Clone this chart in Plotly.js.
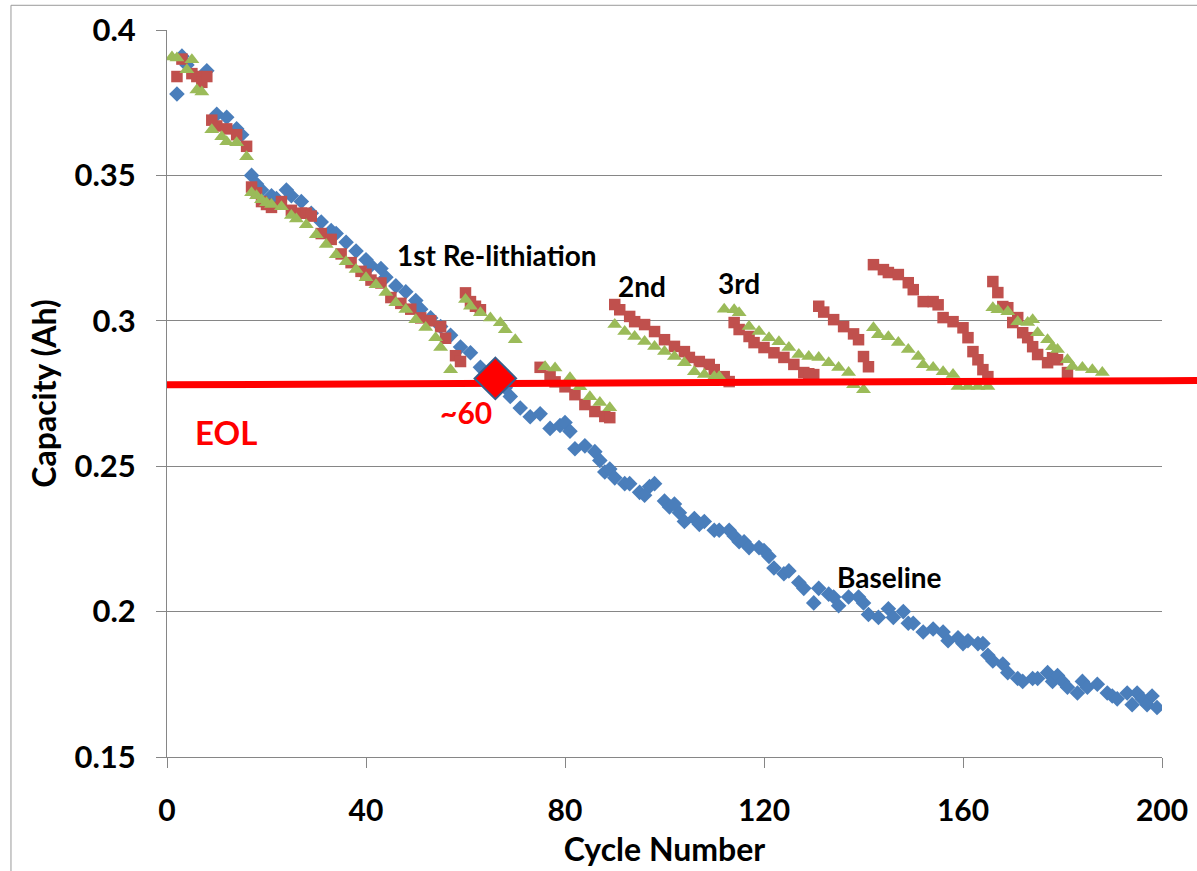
<!DOCTYPE html>
<html>
<head>
<meta charset="utf-8">
<script src="https://cdn.plot.ly/plotly-3.0.1.min.js"></script>
<style>html,body{margin:0;padding:0;background:#fff;}#chart{width:1197px;height:871px;}</style>
</head>
<body>
<div id="chart"></div>
<script>
// Baseline (blue diamonds)
const baseCycles = [2,3,4,8,10,12,14,15,17,18,19,21,22,24,25,27,29,31,33,34,36,38,40,41,43,44,46,48,50,51,53,55,57,59,61,63,65,68,69,71,73,75,77,79,80,81,82,84,86,87,88,89,90,92,93,95,96,97,98,100,101,102,103,104,106,107,108,110,111,113,114,115,116,117,119,120,121,122,124,125,127,128,130,131,133,134,135,137,139,140,141,143,145,146,148,149,150,152,154,156,157,159,160,161,163,164,165,166,168,169,171,172,174,175,177,178,179,180,181,183,184,185,187,189,190,191,193,194,195,196,197,198,199];
const baseCap = [0.378,0.391,0.388,0.386,0.371,0.370,0.366,0.364,0.350,0.347,0.345,0.343,0.342,0.345,0.343,0.341,0.337,0.334,0.331,0.330,0.327,0.324,0.321,0.319,0.318,0.315,0.312,0.310,0.307,0.304,0.301,0.298,0.295,0.291,0.289,0.284,0.281,0.277,0.274,0.270,0.267,0.268,0.263,0.264,0.265,0.262,0.256,0.257,0.255,0.252,0.248,0.249,0.246,0.244,0.244,0.241,0.240,0.243,0.244,0.238,0.236,0.237,0.234,0.231,0.232,0.230,0.231,0.228,0.228,0.228,0.226,0.224,0.224,0.222,0.222,0.221,0.219,0.215,0.213,0.214,0.210,0.208,0.203,0.208,0.206,0.205,0.202,0.205,0.205,0.203,0.199,0.198,0.201,0.198,0.200,0.196,0.196,0.193,0.194,0.193,0.190,0.191,0.189,0.190,0.189,0.189,0.185,0.183,0.182,0.179,0.177,0.176,0.177,0.177,0.179,0.176,0.178,0.176,0.174,0.172,0.176,0.174,0.175,0.172,0.171,0.170,0.172,0.168,0.172,0.170,0.168,0.171,0.167];

// Cell A (red squares)
const redCycles = [2,3,5,6,7,8,9,10,12,14,16,17,18,19,20,21,23,25,27,28,29,31,33,35,37,39,40,41,43,45,47,49,51,53,55,56,58,59,
  60,61,62,63,
  75,77,78,80,82,84,86,88,89,
  90,91,93,94,96,98,100,102,104,105,107,109,110,112,113,
  114,115,117,118,120,122,124,126,128,129,130,
  131,132,134,136,138,139,140,141,
  142,144,145,147,149,150,152,154,155,156,158,160,161,162,163,164,165,
  166,167,168,169,170,171,172,173,174,175,177,178,179,181];
const redCap = [0.384,0.390,0.385,0.384,0.382,0.384,0.369,0.367,0.366,0.364,0.360,0.346,0.344,0.341,0.340,0.339,0.341,0.338,0.337,0.337,0.336,0.330,0.328,0.323,0.320,0.317,0.316,0.314,0.313,0.308,0.306,0.304,0.301,0.300,0.298,0.294,0.288,0.286,
  0.3096,0.3066,0.3050,0.3038,
  0.2840,0.2810,0.2790,0.2773,0.2746,0.2712,0.2688,0.2671,0.2667,
  0.3056,0.3038,0.3015,0.2997,0.2987,0.2963,0.2935,0.2912,0.2894,0.2874,0.2860,0.2850,0.2832,0.2808,0.2791,
  0.2994,0.2970,0.2946,0.2925,0.2908,0.2890,0.2874,0.2850,0.2822,0.2818,0.2815,
  0.3050,0.3030,0.3004,0.2980,0.2955,0.2935,0.2877,0.2842,
  0.3193,0.3176,0.3166,0.3159,0.3131,0.3107,0.3066,0.3066,0.3055,0.3011,0.2997,0.2976,0.2942,0.2894,0.2866,0.2832,0.2808,
  0.3135,0.3097,0.3049,0.3045,0.2994,0.3011,0.2959,0.2942,0.2911,0.2884,0.2856,0.2873,0.2866,0.2822];

// Cell B (green triangles)
const greenCycles = [1,2,4,5,6,7,9,11,12,14,16,17,18,19,20,21,23,25,26,28,30,32,34,36,38,40,42,44,46,48,50,52,54,55,57,
  60,61,63,65,67,68,70,
  76,78,81,83,85,87,89,
  90,92,94,96,98,100,102,104,106,108,110,111,
  112,114,115,117,119,121,123,125,127,129,131,133,135,137,138,140,
  142,143,145,147,149,151,152,154,156,158,159,161,163,165,
  166,167,169,171,173,174,175,177,178,179,181,182,184,186,188];
const greenCap = [0.3907,0.3904,0.3863,0.3898,0.3794,0.3787,0.3657,0.3633,0.3616,0.3612,0.3564,0.3440,0.3430,0.3416,0.3406,0.3400,0.3392,0.3362,0.3350,0.3330,0.3296,0.3262,0.3227,0.3203,0.3176,0.3148,0.3124,0.3097,0.3062,0.3039,0.3004,0.2977,0.2942,0.2908,0.2832,
  0.3073,0.3050,0.3028,0.3010,0.2993,0.2969,0.2935,
  0.2842,0.2838,0.2804,0.2773,0.2739,0.2719,0.2701,
  0.2987,0.2963,0.2946,0.2929,0.2912,0.2894,0.2877,0.2856,0.2825,0.2815,0.2808,0.2808,
  0.3040,0.3038,0.3028,0.2980,0.2963,0.2942,0.2928,0.2908,0.2884,0.2877,0.2874,0.2856,0.2839,0.2822,0.2780,0.2763,
  0.2976,0.2952,0.2945,0.2925,0.2901,0.2877,0.2849,0.2839,0.2825,0.2815,0.2774,0.2774,0.2774,0.2774,
  0.3045,0.3038,0.3031,0.2997,0.2994,0.3004,0.2959,0.2935,0.2911,0.2901,0.2866,0.2843,0.2839,0.2832,0.2822];

// End-of-life threshold line and the ~60 cycle crossing
const eolCycles = [0, 200];
const eolCap = [0.2780, 0.2794];
const crossCycle = [66];
const crossCap = [0.2802];

const yTickVals = [0.15, 0.2, 0.25, 0.3, 0.35, 0.4];
const yTickText = ['0.15', '0.2', '0.25', '0.3', '0.35', '0.4'];
const xTickVals = [0, 40, 80, 120, 160, 200];
const xTickText = ['0', '40', '80', '120', '160', '200'];

const FONT = 'Lato, "Open Sans", sans-serif';

const traces = [
  {x: baseCycles, y: baseCap, type: 'scatter', mode: 'markers', name: 'Baseline',
   marker: {symbol: 'diamond', size: 12, color: '#4A7EBB'}},
  {x: redCycles, y: redCap, type: 'scatter', mode: 'markers', name: 'Cell A',
   marker: {symbol: 'square', size: 11.5, color: '#C0504D'}},
  {x: greenCycles, y: greenCap, type: 'scatter', mode: 'markers', name: 'Cell B',
   marker: {symbol: 'triangle-up', size: 13, color: '#9BBB59'}},
  {x: eolCycles, y: eolCap, type: 'scatter', mode: 'lines', name: 'EOL',
   line: {color: '#FF0000', width: 7}},
  {x: crossCycle, y: crossCap, type: 'scatter', mode: 'markers', name: 'EOL crossing',
   marker: {symbol: 'diamond', size: 32, color: '#FF0000', line: {color: '#385D8A', width: 2}}}
];

const layout = {
  width: 1197, height: 871,
  margin: {l: 167, r: 35, t: 30, b: 114},
  paper_bgcolor: '#ffffff', plot_bgcolor: '#ffffff',
  showlegend: false,
  font: {family: FONT, color: '#000000'},
  xaxis: {
    range: [0, 200], tickvals: xTickVals, ticktext: xTickText,
    showgrid: false, zeroline: false,
    showline: true, linecolor: '#868686', linewidth: 1,
    ticks: 'outside', ticklen: 10, tickcolor: '#868686',
    ticklabelstandoff: 17,
    tickfont: {family: FONT, size: 30, weight: 700, color: '#000'},
    title: {text: 'Cycle Number', font: {family: FONT, size: 32, weight: 700, color: '#000'}, standoff: 12}
  },
  yaxis: {
    range: [0.15, 0.4], tickvals: yTickVals, ticktext: yTickText,
    showgrid: true, gridcolor: '#868686', gridwidth: 1, zeroline: false,
    showline: true, linecolor: '#868686', linewidth: 1,
    ticks: 'outside', ticklen: 10, tickcolor: '#868686',
    ticklabelstandoff: 14,
    tickfont: {family: FONT, size: 31, weight: 700, color: '#000'},
    title: {text: 'Capacity (Ah)', font: {family: FONT, size: 32, weight: 700, color: '#000'}, standoff: 8}
  },
  shapes: [
    // continuation of the EOL line beyond the plot area
    {type: 'line', xref: 'paper', yref: 'y', x0: 1, x1: 1.05, y0: 0.2794, y1: 0.2795,
     line: {color: '#FF0000', width: 7}, layer: 'above'},
    // chart area border
    {type: 'rect', xref: 'paper', yref: 'paper', x0: -0.1568, x1: 1.1, y0: -0.3, y1: 1.034,
     line: {color: '#9a9a9a', width: 1}, fillcolor: 'rgba(0,0,0,0)', layer: 'below'}
  ],
  annotations: [
    {x: 66.3, y: 0.3227, text: '1st Re-lithiation', showarrow: false, font: {family: FONT, size: 28, weight: 700, color: '#000'}},
    {x: 95.4, y: 0.3121, text: '2nd', showarrow: false, font: {family: FONT, size: 28, weight: 700, color: '#000'}},
    {x: 115, y: 0.3131, text: '3rd', showarrow: false, font: {family: FONT, size: 28, weight: 700, color: '#000'}},
    {x: 145.2, y: 0.212, text: 'Baseline', showarrow: false, font: {family: FONT, size: 28, weight: 700, color: '#000'}},
    {x: 60, y: 0.2687, text: '~60', showarrow: false, font: {family: FONT, size: 30, weight: 700, color: '#FF0000'}},
    {x: 11.8, y: 0.2616, text: 'EOL', showarrow: false, font: {family: FONT, size: 33, weight: 700, color: '#FF0000'}}
  ]
};

Plotly.newPlot('chart', traces, layout, {displayModeBar: false, staticPlot: true});
</script>
</body>
</html>
